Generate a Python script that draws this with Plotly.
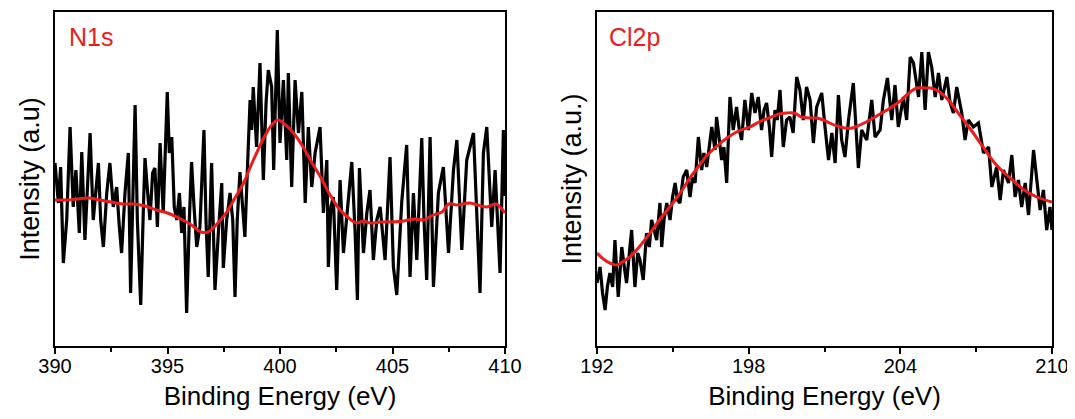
import plotly.graph_objects as go

# ---------------- N1s panel ----------------
n1s_energy = [390.0, 390.15, 390.25, 390.37, 390.52, 390.67, 390.81, 390.93, 391.08, 391.19,
              391.33, 391.45, 391.56, 391.70, 391.82, 391.93, 392.03, 392.15, 392.30, 392.44,
              392.59, 392.74, 392.86, 392.96, 393.11, 393.26, 393.36, 393.48, 393.56, 393.66,
              393.81, 393.93, 394.00, 394.12, 394.22, 394.34, 394.44, 394.55, 394.67, 394.81,
              394.99, 395.08, 395.19, 395.30, 395.41, 395.53, 395.63, 395.73, 395.85, 395.97,
              396.07, 396.18, 396.30, 396.44, 396.62, 396.71, 396.81, 396.96, 397.11, 397.26,
              397.41, 397.48, 397.63, 397.78, 397.90, 398.00, 398.10, 398.22, 398.34, 398.44,
              398.55, 398.67, 398.74, 398.81, 398.96, 399.11, 399.26, 399.38, 399.48, 399.63,
              399.72, 399.88, 400.00, 400.15, 400.30, 400.37, 400.52, 400.67, 400.82, 400.97,
              401.12, 401.26, 401.41, 401.56, 401.78, 401.93, 402.08, 402.15, 402.26, 402.37,
              402.52, 402.67, 402.82, 403.00, 403.19, 403.34, 403.44, 403.53, 403.71, 403.86,
              404.00, 404.15, 404.30, 404.45, 404.67, 404.89, 405.04, 405.19, 405.41, 405.63,
              405.78, 405.93, 406.08, 406.30, 406.40, 406.52, 406.67, 406.82, 407.04, 407.26,
              407.49, 407.71, 407.86, 408.08, 408.30, 408.60, 408.75, 408.89, 409.04, 409.19,
              409.41, 409.56, 409.78, 409.93, 410.0]
n1s_counts = [183, 143, 179, 83, 126, 219, 139, 176, 113, 194,
              106, 159, 213, 126, 153, 183, 126, 99, 153, 183,
              139, 159, 119, 93, 153, 193, 53, 176, 241, 126,
              41, 139, 188, 153, 126, 173, 178, 119, 203, 133,
              254, 193, 209, 139, 126, 153, 113, 139, 33, 126,
              184, 139, 99, 119, 216, 126, 69, 183, 56, 113,
              163, 78, 126, 153, 126, 49, 126, 174, 139, 109,
              176, 246, 216, 259, 199, 283, 166, 243, 276, 259,
              176, 316, 203, 266, 186, 273, 159, 266, 213, 254,
              143, 219, 159, 193, 219, 133, 186, 79, 139, 149,
              56, 166, 93, 139, 184, 113, 46, 178, 93, 133,
              156, 86, 126, 139, 86, 189, 79, 51, 144, 201,
              69, 153, 86, 208, 126, 66, 209, 59, 153, 179,
              93, 176, 206, 96, 186, 213, 126, 53, 193, 219,
              119, 176, 73, 216, 150]

n1s_fit_energy = [390.0, 390.5, 391.0, 391.5, 392.0, 392.5, 393.0, 393.5, 394.0, 394.5,
                  395.0, 395.5, 396.0, 396.5, 396.8, 397.2, 397.6, 398.0, 398.4, 398.7,
                  399.0, 399.3, 399.6, 399.9, 400.2, 400.6, 401.0, 401.4, 401.8, 402.2,
                  402.6, 403.0, 403.4, 403.7, 404.0, 404.5, 405.0, 405.5, 406.0, 406.4,
                  406.8, 407.2, 407.5, 407.9, 408.4, 408.8, 409.2, 409.6, 410.0]
n1s_fit = [146, 146, 147, 148, 146, 144, 142, 142, 140, 136,
           133, 128, 122, 114, 114, 122, 133, 148, 164, 180,
           195, 209, 220, 226, 222, 213, 200, 184, 169, 152,
           138, 129, 123, 125, 123, 124, 124, 125, 127, 126,
           131, 134, 142, 141, 143, 141, 139, 142, 133]

# ---------------- Cl2p panel ----------------
cl_energy = [192.0, 192.12, 192.22, 192.32, 192.41, 192.51, 192.62, 192.71, 192.84, 192.98,
             193.08, 193.17, 193.28, 193.37, 193.50, 193.61, 193.70, 193.83, 193.96, 194.07,
             194.16, 194.25, 194.36, 194.49, 194.56, 194.65, 194.76, 194.89, 194.99, 195.09,
             195.18, 195.28, 195.41, 195.55, 195.68, 195.78, 195.88, 196.01, 196.14, 196.23,
             196.34, 196.44, 196.54, 196.67, 196.73, 196.84, 196.93, 197.02, 197.13, 197.26,
             197.39, 197.52, 197.63, 197.72, 197.85, 197.99, 198.12, 198.25, 198.38, 198.51,
             198.61, 198.71, 198.82, 198.91, 199.04, 199.13, 199.24, 199.37, 199.50, 199.63,
             199.76, 199.90, 200.03, 200.16, 200.29, 200.43, 200.56, 200.69, 200.89, 201.02,
             201.16, 201.29, 201.42, 201.55, 201.68, 201.81, 201.95, 202.14, 202.28, 202.34,
             202.47, 202.67, 202.87, 203.00, 203.20, 203.33, 203.49, 203.66, 203.79, 203.92,
             204.12, 204.25, 204.39, 204.52, 204.72, 204.85, 204.98, 205.11, 205.24, 205.38,
             205.51, 205.64, 205.84, 205.97, 206.10, 206.23, 206.43, 206.56, 206.69, 206.89,
             207.09, 207.29, 207.49, 207.62, 207.81, 207.95, 208.08, 208.28, 208.41, 208.54,
             208.67, 208.80, 208.94, 209.07, 209.27, 209.40, 209.53, 209.66, 209.79, 209.92,
             210.0]
cl_counts = [63, 79, 53, 36, 59, 73, 59, 106, 49, 99,
             79, 63, 93, 116, 59, 93, 86, 66, 113, 99,
             126, 116, 106, 143, 99, 126, 143, 126, 149, 163,
             146, 143, 169, 176, 149, 169, 163, 209, 176, 193,
             179, 199, 219, 196, 229, 206, 186, 199, 163, 249,
             216, 239, 216, 206, 246, 216, 253, 233, 249, 216,
             236, 243, 219, 189, 236, 226, 256, 199, 226, 229,
             213, 269, 256, 226, 259, 246, 203, 239, 253, 219,
             186, 213, 183, 251, 206, 189, 226, 263, 209, 178,
             216, 206, 246, 209, 216, 246, 268, 226, 261, 219,
             249, 226, 289, 283, 249, 294, 236, 294, 279, 249,
             273, 246, 269, 243, 233, 259, 233, 206, 226, 219,
             223, 193, 199, 159, 179, 146, 176, 163, 191, 149,
             166, 139, 163, 131, 196, 169, 136, 156, 116, 139,
             116]

cl_fit_energy = [192.0, 192.3, 192.6, 192.8, 193.0, 193.3, 193.7, 194.1, 194.5, 195.0,
                 195.4, 195.7, 196.0, 196.3, 196.7, 197.2, 197.6, 198.05, 198.4, 198.8,
                 199.2, 199.5, 199.8, 200.1, 200.43, 200.7, 200.96, 201.2, 201.5, 201.8,
                 202.1, 202.4, 202.8, 203.2, 203.6, 204.0, 204.25, 204.65, 205.0, 205.2,
                 205.5, 205.7, 206.0, 206.2, 206.5, 206.8, 207.3, 207.8, 208.3, 208.9,
                 209.4, 210.0]
cl_fit = [93, 86, 82, 81, 84, 89, 100, 113, 127, 143,
          157, 169, 179, 189, 199, 209, 215, 219, 224, 228,
          232, 233, 233, 229, 228, 228, 226, 223, 220, 218,
          218, 221, 226, 232, 238, 245, 251, 258, 258, 258,
          255, 251, 243, 236, 226, 216, 198, 181, 169, 156,
          149, 144]

panel_labels = ["N1s", "Cl2p"]
x_title = "Binding Energy (eV)"
y_titles = ["Intensity (a.u)", "Intensity (a.u.)"]

# the page body has an 8px margin; lay out in figure coordinates = screen - 8
OFF = 8
W, H = 1075 - OFF, 419 - OFF
FONT = "Arial, Liberation Sans, sans-serif"
RED = "#ec1c1c"


def px_x(sx):
    return (sx - OFF) / W


def px_y(sy):
    return (H - (sy - OFF)) / H


fig = go.Figure()
fig.add_trace(go.Scatter(x=n1s_energy, y=n1s_counts, mode="lines",
                         line=dict(color="black", width=3.2), xaxis="x", yaxis="y", showlegend=False))
fig.add_trace(go.Scatter(x=n1s_fit_energy, y=n1s_fit, mode="lines", line_shape="spline",
                         line=dict(color=RED, width=3), xaxis="x", yaxis="y", showlegend=False))
fig.add_trace(go.Scatter(x=cl_energy, y=cl_counts, mode="lines",
                         line=dict(color="black", width=3.2), xaxis="x2", yaxis="y2", showlegend=False))
fig.add_trace(go.Scatter(x=cl_fit_energy, y=cl_fit, mode="lines", line_shape="spline",
                         line=dict(color=RED, width=3), xaxis="x2", yaxis="y2", showlegend=False))

ydom = [px_y(346), px_y(12)]
common_x = dict(showline=True, linecolor="black", linewidth=2, mirror=True,
                ticks="outside", ticklen=6, tickwidth=2, tickcolor="black",
                showgrid=False, zeroline=False, ticklabelstandoff=-5,
                tickfont=dict(family=FONT, size=20, color="black"),
                title=dict(text=x_title, font=dict(family=FONT, size=26, color="black"), standoff=11),
                automargin=False)
common_y = dict(showline=True, linecolor="black", linewidth=2, mirror=True,
                ticks="", showticklabels=False, showgrid=False, zeroline=False,
                range=[0, 334], domain=ydom, automargin=False)

fig.update_layout(
    width=W, height=H,
    margin=dict(l=0, r=0, t=0, b=0),
    paper_bgcolor="white", plot_bgcolor="white",
    xaxis=dict(common_x, domain=[px_x(55), px_x(505)], range=[390, 410], tickvals=[390, 395, 400, 405, 410],
               minor=dict(ticks="outside", ticklen=4, tickwidth=2, tickcolor="black", dtick=2.5, showgrid=False),
               anchor="y"),
    yaxis=dict(common_y, anchor="x",
               title=dict(text=y_titles[0], font=dict(family=FONT, size=27, color="black"), standoff=6)),
    xaxis2=dict(common_x, domain=[px_x(597), px_x(1052)], range=[192, 210], tickvals=[192, 198, 204, 210],
                minor=dict(ticks="outside", ticklen=4, tickwidth=2, tickcolor="black", dtick=3, showgrid=False),
                anchor="y2"),
    yaxis2=dict(common_y, anchor="x2",
                title=dict(text=y_titles[1], font=dict(family=FONT, size=27, color="black"), standoff=6)),
    annotations=[
        dict(text=panel_labels[0], xref="paper", yref="paper", x=px_x(67), y=px_y(37),
             xanchor="left", yanchor="middle", showarrow=False,
             font=dict(family=FONT, size=25, color=RED)),
        dict(text=panel_labels[1], xref="paper", yref="paper", x=px_x(607), y=px_y(37),
             xanchor="left", yanchor="middle", showarrow=False,
             font=dict(family=FONT, size=25, color=RED)),
    ],
)

fig.write_html("out.html")
